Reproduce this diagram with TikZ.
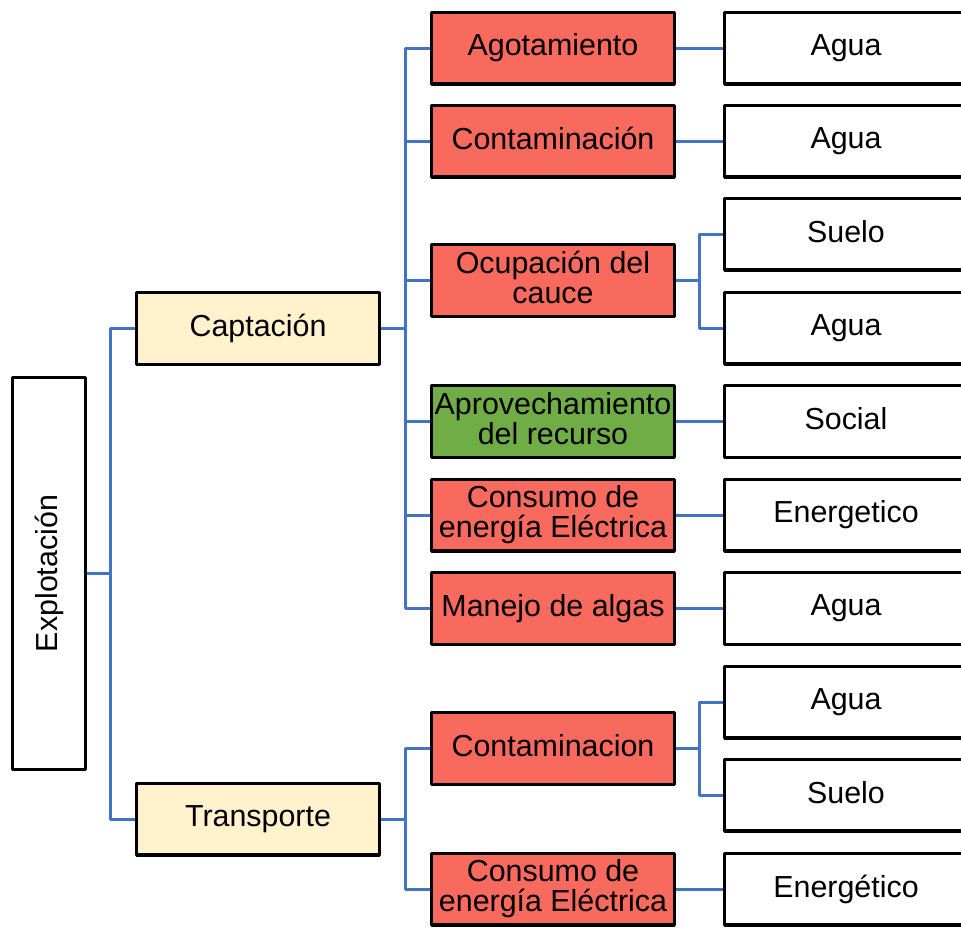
\documentclass[tikz,border=0pt]{standalone}
\usepackage{fontspec}
\setmainfont{Liberation Sans}
\newcommand{\boxstrut}{\rule[-3pt]{0pt}{12pt}}
\begin{document}
\definecolor{linkblue}{RGB}{68,114,196}
\definecolor{impactred}{RGB}{248,105,94}
\definecolor{goodgreen}{RGB}{112,173,71}
\definecolor{stagecream}{RGB}{255,242,204}
\begin{tikzpicture}[x=0.5pt,y=-0.5pt,
  box/.style={draw=black,line width=1.7pt,line join=round,minimum width=121.3pt,
    minimum height=35.8pt,inner sep=0pt,align=center,
    font=\fontsize{15.2}{15}\selectfont,
    execute at begin node=\boxstrut,execute at end node=\boxstrut},
  stagebox/.style={box,fill=stagecream},
  redbox/.style={box,fill=impactred},
  greenbox/.style={box,fill=goodgreen},
  leafbox/.style={box,fill=white},
  conn/.style={draw=linkblue,line width=1.5pt,line join=round}]
\useasboundingbox (0,0) rectangle (961,927);
\clip (0,0) rectangle (961,927);

% root
\node[box,fill=white,minimum width=36.3pt,minimum height=196pt] (expl) at (49,573.5) {};
\node[rotate=90,font=\fontsize{15.2}{15}\selectfont] (expltxt) at (49,573.5) {\boxstrut Explotación};

% stages
\node[stagebox] (capt) at (258,328.5) {Captación};
\node[stagebox] (transp) at (258,819) {Transporte};

% impacts
\node[redbox] (r1) at (553,48) {Agotamiento};
\node[redbox] (r2) at (553,141) {Contaminación};
\node[redbox] (r3) at (553,280.5) {Ocupación del\\cauce};
\node[greenbox] (r4) at (553,421.5) {Aprovechamiento\\del recurso};
\node[redbox] (r5) at (553,515) {Consumo de\\energía Eléctrica};
\node[redbox] (r6) at (553,608.5) {Manejo de algas};
\node[redbox] (r7) at (553,748.5) {Contaminacion};
\node[redbox] (r8) at (553,889) {Consumo de\\energía Eléctrica};

% affected components
\node[leafbox] (w1) at (846,48) {Agua};
\node[leafbox] (w2) at (846,141) {Agua};
\node[leafbox] (w3) at (846,234) {Suelo};
\node[leafbox] (w4) at (846,328) {Agua};
\node[leafbox] (w5) at (846,421.5) {Social};
\node[leafbox] (w6) at (846,515) {Energetico};
\node[leafbox] (w7) at (846,608.5) {Agua};
\node[leafbox] (w8) at (846,702) {Agua};
\node[leafbox] (w9) at (846,795) {Suelo};
\node[leafbox] (w10) at (846,889) {Energético};

% junction columns
\coordinate (j1) at (110,0);
\coordinate (j2) at (405,0);
\coordinate (j3) at (699,0);

% root to stages
\draw[conn] (expl.east) -- (expl.east -| j1) |- (capt.west);
\draw[conn] (expl.east -| j1) |- (transp.west);

% Captación to its impacts
\draw[conn] (capt.east) -- (capt.east -| j2);
\foreach \r in {r1,r2,r3,r4,r5,r6}
  \draw[conn] (capt.east -| j2) |- (\r.west);

% Transporte to its impacts
\draw[conn] (transp.east) -- (transp.east -| j2);
\foreach \r in {r7,r8}
  \draw[conn] (transp.east -| j2) |- (\r.west);

% impacts to components
\draw[conn] (r1.east) -- (w1.west);
\draw[conn] (r2.east) -- (w2.west);
\draw[conn] (r3.east) -- (r3.east -| j3) |- (w3.west);
\draw[conn] (r3.east -| j3) |- (w4.west);
\draw[conn] (r4.east) -- (w5.west);
\draw[conn] (r5.east) -- (w6.west);
\draw[conn] (r6.east) -- (w7.west);
\draw[conn] (r7.east) -- (r7.east -| j3) |- (w8.west);
\draw[conn] (r7.east -| j3) |- (w9.west);
\draw[conn] (r8.east) -- (w10.west);
\end{tikzpicture}
\end{document}
